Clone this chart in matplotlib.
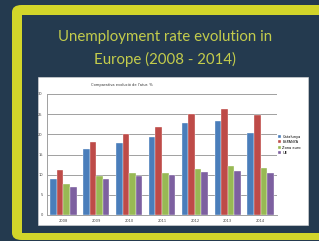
import matplotlib
matplotlib.use("Agg")
from matplotlib import pyplot as plt
from matplotlib.patches import FancyBboxPatch, Rectangle
import numpy as np

# dades llegides del grafic
anys = ["2008", "2009", "2010", "2011", "2012", "2013", "2014"]
catalunya = [8.9, 16.3, 17.9, 19.3, 22.7, 23.4, 20.4]
espanya = [11.2, 18.0, 20.1, 21.7, 25.0, 26.4, 24.7]
zona_euro = [7.7, 9.7, 10.3, 10.3, 11.4, 12.1, 11.7]
ue = [7.0, 9.0, 9.7, 9.8, 10.6, 11.0, 10.3]
series = ["Catalunya", "ESPANYA", "Zona euro", "UE"]
colors = ["#4a7ebb", "#be4b48", "#98b954", "#7d60a0"]

W, H = 319, 241
navy = "#243a4f"
fig = plt.figure(figsize=(W / 100, H / 100), dpi=100, facecolor=navy)

def fx(px):
    return px / W

def fy(py):
    return 1 - py / H

# marc groc i fons interior
fig.patches.append(FancyBboxPatch((fx(12), fy(240)), fx(330) - fx(12), fy(5) - fy(240),
                                  boxstyle="round,pad=0,rounding_size=0.03",
                                  transform=fig.transFigure, facecolor="#d2d52a",
                                  edgecolor="none", zorder=0))
fig.patches.append(Rectangle((fx(22), fy(233)), fx(325) - fx(22), fy(15) - fy(233),
                             transform=fig.transFigure, facecolor=navy,
                             edgecolor="none", zorder=1))

fig.text(fx(165), fy(37), "Unemployment rate evolution in", color="#c3cc4c",
         fontsize=10.8, family="Lato", ha="center", va="center")
fig.text(fx(165), fy(59), "Europe (2008 - 2014)", color="#c3cc4c",
         fontsize=10.8, family="Lato", ha="center", va="center")

# panell blanc
fig.patches.append(Rectangle((fx(38), fy(225)), fx(308) - fx(38), fy(77) - fy(225),
                             transform=fig.transFigure, facecolor="white",
                             edgecolor="#dddddd", linewidth=0.4, zorder=2))
fig.text(fx(122), fy(85), "Comparativa evolució de l'atur. %", fontsize=2.6,
         color="#333333", ha="center", va="center", zorder=3)

ax = fig.add_axes([fx(47), fy(215), fx(277) - fx(47), fy(94) - fy(215)])
ax.set_zorder(3)
ax.patch.set_alpha(0)

x = np.arange(len(anys))
w = 0.2
dades = [catalunya, espanya, zona_euro, ue]
for i, (vals, nom, c) in enumerate(zip(dades, series, colors)):
    ax.bar(x + (i - 1.5) * w, vals, w, color=c, label=nom, zorder=2,
           edgecolor="white", linewidth=0.25)

ax.set_xlim(-0.5, len(anys) - 0.5)
ax.set_ylim(0, 30)
ax.set_yticks(range(0, 31, 5))
ax.set_xticks(x)
ax.set_xticklabels(anys)
ax.tick_params(labelsize=2.6, length=0, pad=3, labelcolor="#444444")
ax.grid(axis="y", color="#a0a0a0", linewidth=0.7, zorder=0)
for s in ["top", "right"]:
    ax.spines[s].set_visible(False)
ax.spines["left"].set_color("#a0a0a0")
ax.spines["bottom"].set_color("#a0a0a0")
ax.spines["left"].set_linewidth(0.7)
ax.spines["bottom"].set_linewidth(0.7)

ax.legend(loc="center left", bbox_to_anchor=(0.99, 0.58), fontsize=2.6, frameon=False,
          handlelength=0.8, handleheight=0.8, labelspacing=0.4, handletextpad=0.4)

fig.savefig("out.png", dpi=100, facecolor=navy)
